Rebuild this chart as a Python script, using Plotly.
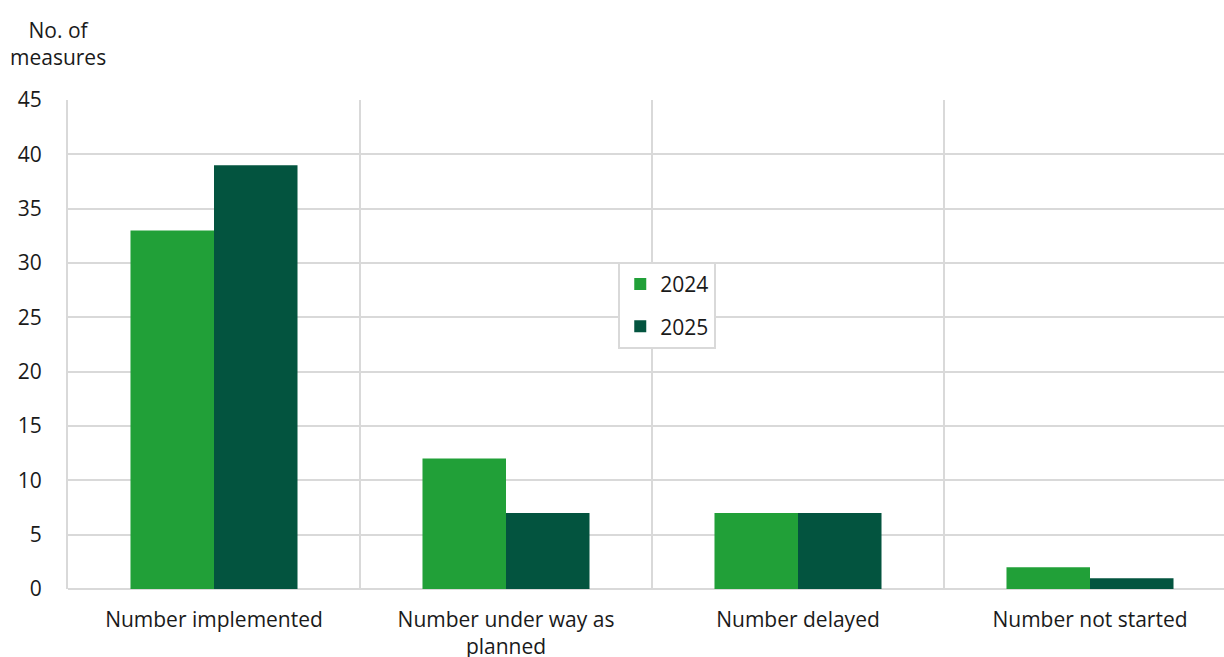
import plotly.graph_objects as go

categories = ["Number implemented", "Number under way as<br>planned",
              "Number delayed", "Number not started"]
values_2024 = [33, 12, 7, 2]
values_2025 = [39, 7, 7, 1]
y_ticks = [0, 5, 10, 15, 20, 25, 30, 35, 40, 45]

GREEN = "#21a038"
DARK_GREEN = "#03543f"
GRID = "#d9d9d9"
FONT = "Open Sans"
FS = 21

x_pos = list(range(len(categories)))

fig = go.Figure()
fig.add_trace(go.Bar(x=x_pos, y=values_2024, name="2024",
                     marker=dict(color=GREEN, line=dict(width=0)),
                     legendgroup="a"))
fig.add_trace(go.Bar(x=x_pos, y=values_2025, name="2025",
                     marker=dict(color=DARK_GREEN, line=dict(width=0)),
                     legendgroup="b"))

# category separators sit halfway between category centres
separators = [p - 0.5 for p in x_pos] + [x_pos[-1] + 0.5]

fig.update_layout(
    width=1224, height=657,
    margin=dict(l=68, r=0, t=100, b=68),
    paper_bgcolor="white", plot_bgcolor="white",
    font=dict(family=FONT, size=FS, color="#1a1a1a"),
    barmode="group", bargap=0.428, bargroupgap=0,
    showlegend=True,
    legend=dict(x=0.476, y=0.669, xanchor="left", yanchor="top",
                bordercolor=GRID, borderwidth=2, bgcolor="white",
                font=dict(family=FONT, size=FS, color="#1a1a1a"),
                tracegroupgap=12, traceorder="grouped"),
    xaxis=dict(
        range=[-0.5, -0.5 + 1156 / 292], automargin=False,
        tickmode="array", tickvals=x_pos, ticktext=categories,
        showgrid=False, zeroline=False, showline=False, ticks="",
        ticklabelstandoff=16,
        minor=dict(tickmode="array", tickvals=separators, showgrid=True,
                   gridcolor=GRID, gridwidth=2, ticks=""),
        tickfont=dict(family=FONT, size=FS, color="#1a1a1a"),
    ),
    yaxis=dict(
        range=[0, 45], tickmode="array", tickvals=y_ticks, automargin=False,
        showgrid=True, gridcolor=GRID, gridwidth=2,
        zeroline=True, zerolinecolor=GRID, zerolinewidth=2,
        showline=True, linecolor=GRID, linewidth=2,
        ticks="", ticklabelstandoff=20,
        tickfont=dict(family=FONT, size=FS, color="#1a1a1a"),
    ),
    annotations=[dict(text="No. of<br>measures", xref="paper", yref="paper",
                      x=-0.0085, y=1.0 + 57 / 489, xanchor="center", yanchor="middle",
                      showarrow=False, align="center",
                      font=dict(family=FONT, size=FS, color="#1a1a1a"))],
)

fig.write_html("out.html")
